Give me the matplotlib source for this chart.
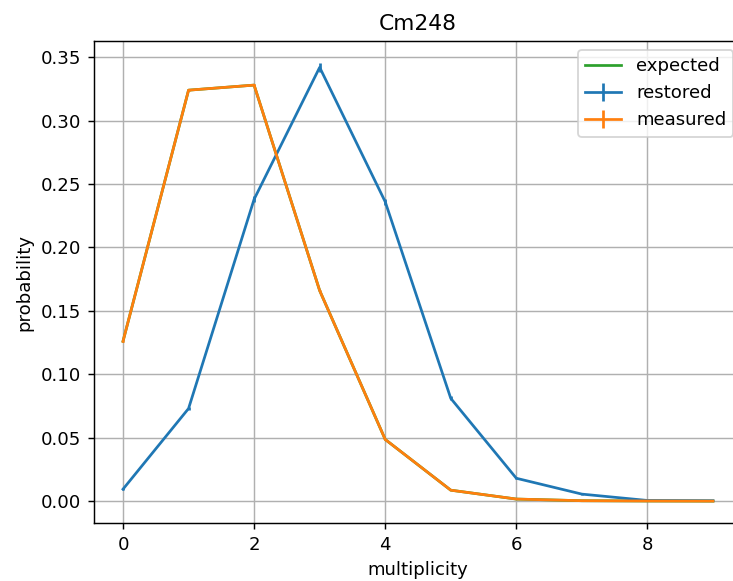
import matplotlib
matplotlib.use("Agg")
import matplotlib.pyplot as plt
import numpy as np

multiplicity = np.arange(10)

expected = [0.126, 0.324, 0.328, 0.166, 0.0486, 0.0086, 0.0016, 0.0003, 0.0001, 0.0]
restored = [0.0094, 0.073, 0.238, 0.342, 0.236, 0.081, 0.018, 0.0055, 0.0005, 0.0003]
restored_err = [0.0008, 0.0015, 0.0025, 0.0035, 0.0025, 0.0015, 0.0008, 0.0004, 0.0002, 0.0001]
measured = [0.126, 0.324, 0.328, 0.166, 0.0486, 0.0086, 0.0016, 0.0003, 0.0001, 0.0]
measured_err = [0.0005, 0.0008, 0.0008, 0.0006, 0.0003, 0.0001, 0.0001, 0.0, 0.0, 0.0]

DPI = 130.6
W, H = 733, 581
fig = plt.figure(figsize=(W / DPI, H / DPI), dpi=DPI)
ax = fig.add_axes([93.5 / W, 58 / H, 649 / W, 482 / H])

ax.plot(multiplicity, expected, color="tab:green", label="expected")
ax.errorbar(multiplicity, restored, yerr=restored_err, color="tab:blue", label="restored")
ax.errorbar(multiplicity, measured, yerr=measured_err, color="tab:orange", label="measured")

ax.set_title("Cm248")
ax.set_xlabel("multiplicity")
ax.set_ylabel("probability")
ax.grid(True)
ax.legend(loc="upper right")

fig.savefig("out.png", dpi=DPI)
